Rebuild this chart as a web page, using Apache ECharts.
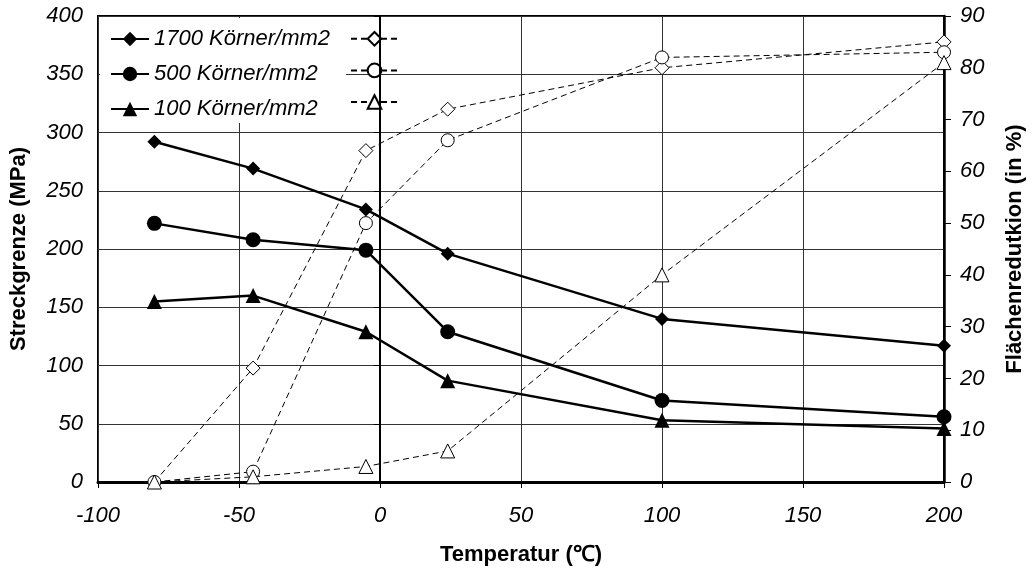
<!DOCTYPE html>
<html>
<head>
<meta charset="utf-8">
<script src="https://cdn.jsdelivr.net/npm/echarts@6/dist/echarts.min.js"></script>
<style>html,body{margin:0;padding:0;background:#fff;overflow:hidden;width:100%;height:100%}#c{position:absolute;left:0;top:0;width:100vw;height:100vh}</style>
</head>
<body>
<div id="c"></div>
<script>
const temps = [-80, -45, -5, 24, 100, 200];
const yield1700 = [292, 269, 234, 196, 140, 117];
const yield500 = [222, 208, 199, 129, 70, 56];
const yield100 = [155, 160, 129, 87, 53, 46];
const ra1700 = [0, 22, 64, 72, 80, 85];
const ra500 = [0, 2, 50, 66, 82, 83];
const ra100 = [0, 1, 3, 6, 40, 81];
const names = ['1700 Körner/mm2', '500 Körner/mm2', '100 Körner/mm2'];
const raNames = ['Fläche 1700', 'Fläche 500', 'Fläche 100'];

const pairs = arr => temps.map((t, i) => [t, arr[i]]);
const FONT = 'Liberation Sans';

function solid(name, arr, symbol, size) {
  return {
    name, type: 'line', data: pairs(arr), xAxisIndex: 0, yAxisIndex: 0,
    symbol, symbolSize: size, z: 5,
    lineStyle: { color: '#000', width: 2.5, type: 'solid' },
    itemStyle: { color: '#000', borderColor: '#000', borderWidth: 0 }
  };
}
function open(name, arr, symbol, size) {
  return {
    name, type: 'line', data: pairs(arr), xAxisIndex: 0, yAxisIndex: 1,
    symbol, symbolSize: size, z: 4,
    lineStyle: { color: '#000', width: 1, type: [6, 4] },
    itemStyle: { color: '#fff', borderColor: '#000', borderWidth: 1 }
  };
}

const s1 = solid(names[0], yield1700, 'diamond', 14);
s1.markLine = {
  silent: true, symbol: 'none', animation: false,
  label: { show: false },
  lineStyle: { color: '#000', width: 2, type: 'solid' },
  data: [{ xAxis: 0 }]
};

const option = {
  animation: false,
  backgroundColor: '#fff',
  grid: { left: 98, right: 79, top: 16, bottom: 85, show: true, borderColor: '#000', borderWidth: 2, backgroundColor: 'transparent' },
  legend: [
    {
      data: names, orient: 'vertical', left: 100, top: 18,
      padding: [10, 16, 3, 10], backgroundColor: '#fff',
      itemWidth: 38, itemHeight: 18, itemGap: 13,
      textStyle: { fontFamily: FONT, fontSize: 22, fontStyle: 'italic', color: '#000', lineHeight: 20 }
    },
    {
      data: raNames, orient: 'vertical', left: 350, top: 31,
      padding: 0, itemWidth: 47, itemHeight: 17, itemGap: 16,
      formatter: () => '',
      textStyle: { fontFamily: FONT, fontSize: 22, lineHeight: 17 }
    }
  ],
  xAxis: {
    type: 'value', min: -100, max: 200, interval: 50,
    name: 'Temperatur (℃)', nameLocation: 'middle', nameGap: 62,
    nameTextStyle: { fontFamily: FONT, fontSize: 22, fontWeight: 'bold', color: '#000' },
    axisLine: { onZero: false, lineStyle: { color: '#000', width: 3 } },
    axisTick: { show: true, length: 6, lineStyle: { color: '#000', width: 1 } },
    axisLabel: { fontFamily: FONT, fontSize: 22, fontStyle: 'italic', color: '#000', margin: 23 },
    splitLine: { show: true, lineStyle: { color: '#333', width: 1 } }
  },
  yAxis: [
    {
      type: 'value', min: 0, max: 400, interval: 50, position: 'left',
      name: 'Streckgrenze (MPa)', nameLocation: 'middle', nameGap: 68, nameRotate: 90,
      nameTextStyle: { fontFamily: FONT, fontSize: 22, fontWeight: 'bold', color: '#000' },
      axisLine: { show: true, lineStyle: { color: '#000', width: 2 } },
      axisTick: { show: true, length: 6, lineStyle: { color: '#000', width: 1 } },
      axisLabel: { fontFamily: FONT, fontSize: 22, fontStyle: 'italic', color: '#000', margin: 15 },
      splitLine: { show: true, lineStyle: { color: '#333', width: 1 } }
    },
    {
      type: 'value', min: 0, max: 90, interval: 10, position: 'right',
      name: 'Flächenredutkion (in %)', nameLocation: 'middle', nameGap: 60, nameRotate: 90,
      nameTextStyle: { fontFamily: FONT, fontSize: 22, fontWeight: 'bold', color: '#000' },
      axisLine: { show: true, lineStyle: { color: '#000', width: 2.5 } },
      axisTick: { show: true, length: 7, lineStyle: { color: '#000', width: 1 } },
      axisLabel: { fontFamily: FONT, fontSize: 22, fontStyle: 'italic', color: '#000', margin: 16 },
      splitLine: { show: false }
    }
  ],
  series: [
    s1,
    solid(names[1], yield500, 'circle', 15),
    solid(names[2], yield100, 'triangle', 15),
    open(raNames[0], ra1700, 'diamond', 14),
    open(raNames[1], ra500, 'circle', 13),
    open(raNames[2], ra100, 'triangle', 14)
  ]
};

const chart = echarts.init(document.getElementById('c'), null, { renderer: 'canvas' });
chart.setOption(option);
window.addEventListener('resize', () => chart.resize());
</script>
</body>
</html>
